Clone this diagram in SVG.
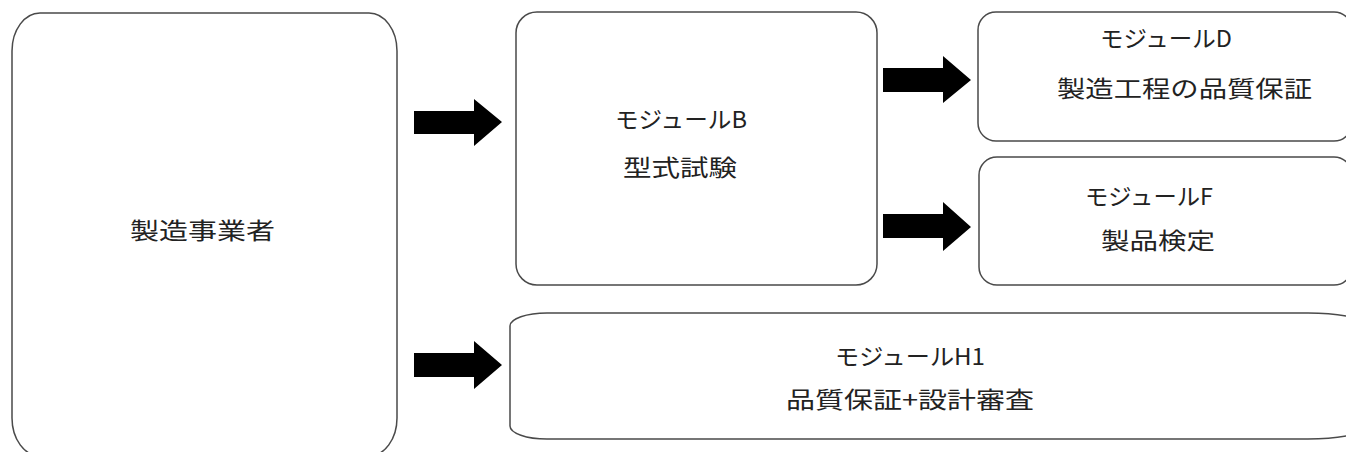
<svg xmlns="http://www.w3.org/2000/svg" width="1346" height="452" viewBox="0 0 1346 452">
<style>
.box{fill:#fff;stroke:#4a4a4a;stroke-width:1.5}
.arr{fill:#000}
text{font-family:"Noto Sans CJK JP","Noto Sans",sans-serif;font-size:23px;fill:#222}
</style>
<rect width="1346" height="452" fill="#fff"/>
<g id="node-maker">
<path class="box" d="M12,51 A28,38 0 0 1 40,13 L369,13 A28,38 0 0 1 397,51 L397,418 A28,38 0 0 1 369,456 L40,456 A28,38 0 0 1 12,418 Z"/>
<text x="130" y="239" textLength="145" lengthAdjust="spacingAndGlyphs">製造事業者</text>
</g>
<g id="node-B">
<rect class="box" x="516" y="12" width="361" height="273" rx="21" ry="21"/>
<text x="615" y="128" textLength="132" lengthAdjust="spacingAndGlyphs">モジュールB</text>
<text x="623" y="176" textLength="114" lengthAdjust="spacingAndGlyphs">型式試験</text>
</g>
<g id="node-D">
<rect class="box" x="978" y="12" width="374" height="129" rx="18" ry="18"/>
<text x="1100" y="47" textLength="132" lengthAdjust="spacingAndGlyphs">モジュールD</text>
<text x="1057" y="97" textLength="255" lengthAdjust="spacingAndGlyphs">製造工程の品質保証</text>
</g>
<g id="node-F">
<rect class="box" x="979" y="157" width="373" height="128" rx="18" ry="18"/>
<text x="1085" y="205" textLength="128" lengthAdjust="spacingAndGlyphs">モジュールF</text>
<text x="1101" y="249" textLength="114" lengthAdjust="spacingAndGlyphs">製品検定</text>
</g>
<g id="node-H1">
<path class="box" d="M510,326 A37,13 0 0 1 547,313 L1308,313 A60,13 0 0 1 1368,326 L1368,426 A60,13 0 0 1 1308,439 L547,439 A37,13 0 0 1 510,426 Z"/>
<text x="835" y="365" textLength="150" lengthAdjust="spacingAndGlyphs">モジュールH1</text>
<text x="786" y="408" textLength="248" lengthAdjust="spacingAndGlyphs">品質保証+設計審査</text>
</g>
<g id="connectors">
<polygon class="arr" points="414,111 474,111 474,99 502,122 474,146 474,134 414,134"/>
<polygon class="arr" points="883,68 943,68 943,56 971,80 943,103 943,92 883,92"/>
<polygon class="arr" points="883,214 943,214 943,202 971,227 943,251 943,238 883,238"/>
<polygon class="arr" points="414,353 474,353 474,341 502,365 474,389 474,377 414,377"/>
</g>
</svg>
